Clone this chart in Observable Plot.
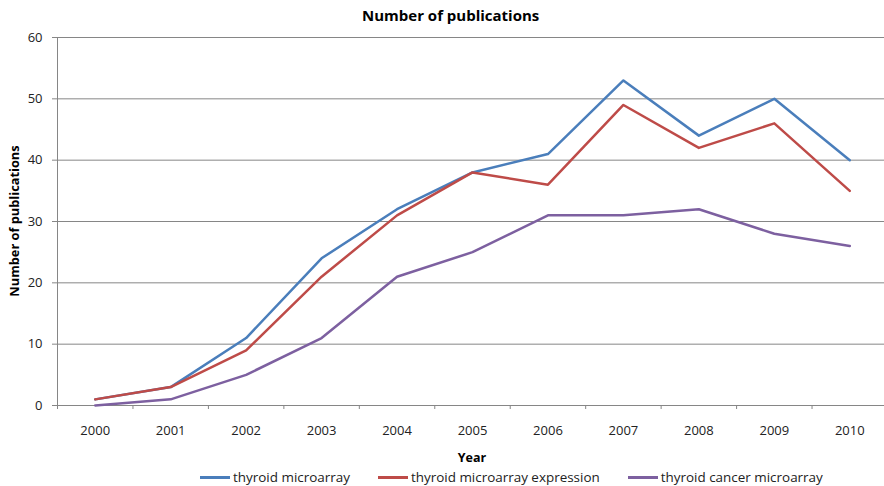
<!DOCTYPE html>
<html>
<head>
<meta charset="utf-8">
<script src="https://cdn.jsdelivr.net/npm/d3@7"></script>
<script src="https://cdn.jsdelivr.net/npm/@observablehq/plot@0.6"></script>
<style>
  body { margin: 0; background: #fff; font-family: "Open Sans", sans-serif; }
  #wrap { position: relative; width: 884px; height: 486px; overflow: hidden; }
  #title { position: absolute; top: 5px; left: 362px; font-weight: bold; font-size: 15px; color: #000; white-space: nowrap; }
  #ylabel { position: absolute; left: 14px; top: 221px; transform: translate(-50%, -50%) rotate(-90deg); font-weight: bold; font-size: 12.8px; white-space: nowrap; color: #000; }
  #xlabel { position: absolute; left: 372px; width: 200px; text-align: center; top: 449px; font-weight: bold; font-size: 12.5px; color: #000; }
  #chart { position: absolute; left: 0; top: 0; }
  #legend { position: absolute; left: 200px; top: 468px; display: flex; gap: 28px; font-size: 13.45px; color: #222; white-space: nowrap; }
  .item { display: flex; align-items: center; }
  .swatch { width: 30px; height: 3px; margin-right: 3px; }
</style>
</head>
<body>
<div id="wrap">
  <div id="title">Number of publications</div>
  <div id="chart"></div>
  <div id="ylabel">Number of publications</div>
  <div id="xlabel">Year</div>
  <div id="legend"></div>
</div>
<script>
const years = [2000, 2001, 2002, 2003, 2004, 2005, 2006, 2007, 2008, 2009, 2010];
const yearLabels = ["2000", "2001", "2002", "2003", "2004", "2005", "2006", "2007", "2008", "2009", "2010"];
const thyroidMicroarray = [1, 3, 11, 24, 32, 38, 41, 53, 44, 50, 40];
const thyroidMicroarrayExpression = [1, 3, 9, 21, 31, 38, 36, 49, 42, 46, 35];
const thyroidCancerMicroarray = [0, 1, 5, 11, 21, 25, 31, 31, 32, 28, 26];
const seriesNames = ["thyroid microarray", "thyroid microarray expression", "thyroid cancer microarray"];
const seriesColors = ["#4A7EBB", "#BE4B48", "#7D60A0"];
const yTicks = [0, 10, 20, 30, 40, 50, 60];

const seriesValues = [thyroidMicroarray, thyroidMicroarrayExpression, thyroidCancerMicroarray];
const rows = [];
seriesValues.forEach((vals, s) => vals.forEach((v, i) => rows.push({year: years[i], value: v, series: seriesNames[s]})));
const boundaries = d3.range(years.length + 1).map(i => years[0] - 0.5 + i);

const chart = Plot.plot({
  width: 884,
  height: 470,
  marginTop: 37,
  marginBottom: 65,
  marginLeft: 57,
  marginRight: 0,
  style: {fontFamily: "Open Sans", fontSize: "13px", color: "#222", overflow: "visible", background: "transparent"},
  x: {type: "linear", domain: [years[0] - 0.5, years[years.length - 1] + 0.5], range: [57, 887]},
  y: {domain: [0, 60]},
  color: {domain: seriesNames, range: seriesColors},
  marks: [
    Plot.gridY(yTicks, {stroke: "#868686", strokeOpacity: 1, strokeWidth: 1}),
    Plot.axisY(yTicks, {tickSize: 5, tickPadding: 10, stroke: "#868686", label: null, fill: "#222"}),
    Plot.ruleX([boundaries[0]], {stroke: "#868686"}),
    Plot.ruleY([0], {stroke: "#868686"}),
    Plot.axisX(boundaries, {tickSize: 4, tickFormat: () => "", stroke: "#868686", label: null}),
    Plot.axisX(years, {tickSize: 0, tickPadding: 20, tickFormat: d => yearLabels[years.indexOf(d)], label: null, fill: "#222"}),
    Plot.line(rows, {x: "year", y: "value", stroke: "series", z: "series", strokeWidth: 2.5, strokeLinejoin: "round"})
  ]
});
document.getElementById("chart").appendChild(chart);

const legend = document.getElementById("legend");
seriesNames.forEach((name, i) => {
  const item = document.createElement("div");
  item.className = "item";
  const sw = document.createElement("span");
  sw.className = "swatch";
  sw.style.background = seriesColors[i];
  const label = document.createElement("span");
  label.textContent = name;
  item.appendChild(sw);
  item.appendChild(label);
  legend.appendChild(item);
});
</script>
</body>
</html>
